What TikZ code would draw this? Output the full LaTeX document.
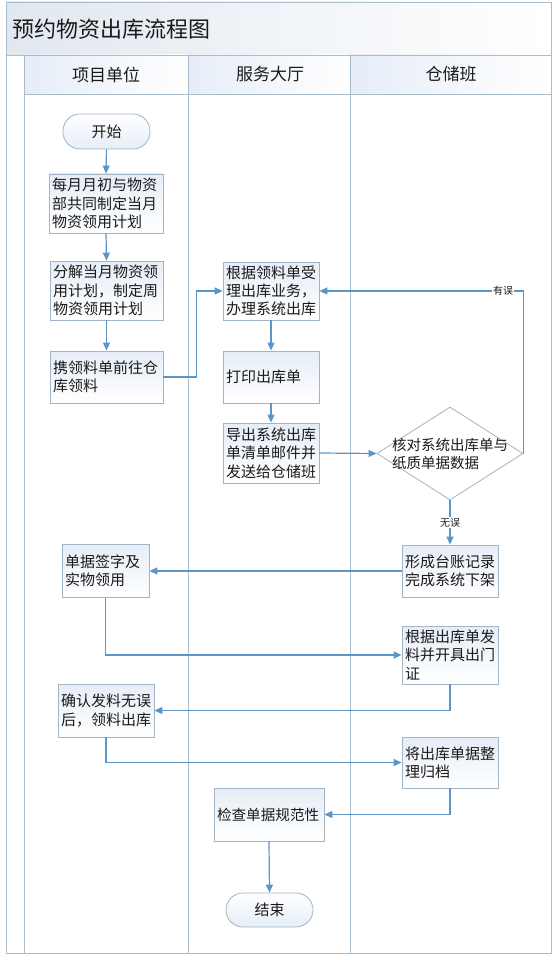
\documentclass[tikz,border=0pt]{standalone}
\usepackage{fontspec}
\setmainfont{Noto Sans CJK SC}
\usetikzlibrary{arrows.meta,shapes.geometric}
\definecolor{laneline}{HTML}{A9BDCD}
\definecolor{boxline}{HTML}{A3B4C4}
\definecolor{arrowc}{HTML}{5C95C8}
\definecolor{tint}{HTML}{E6EDF7}
\definecolor{titletint}{HTML}{E2E8F0}
\definecolor{txt}{HTML}{1A1A1A}
\begin{document}
\begin{tikzpicture}[x=1pt,y=-1pt,
  lane/.style={draw=laneline,line width=0.9pt},
  proc/.style={draw=boxline,line width=0.8pt,top color=tint,bottom color=white,
    align=left,inner xsep=3pt,inner ysep=2pt,text=txt,
    font=\fontsize{15}{18.3}\selectfont},
  term/.style={draw=boxline,line width=0.8pt,top color=white,bottom color=tint,
    rounded corners=17pt,text=txt,font=\fontsize{15}{18}\selectfont},
  decis/.style={draw=boxline,line width=0.8pt,shape=diamond,inner sep=0pt,fill=white},
  head/.style={text=txt,font=\fontsize{17}{20}\selectfont},
  arr/.style={draw=arrowc,line width=1.2pt,-{Triangle[length=8pt,width=7pt]}},
  lbl/.style={fill=white,inner sep=1pt,text=txt,font=\fontsize{10}{12}\selectfont}]
\useasboundingbox (0,0) rectangle (554,960);
\fill[white] (0,0) rectangle (554,960);
% frame
\path[left color=titletint,right color=white] (6,2) rectangle (551,55);
\path[left color=tint,right color=white] (24,55) rectangle (188,94);
\path[left color=tint,right color=white] (188,55) rectangle (350,94);
\path[left color=tint,right color=white] (350,55) rectangle (551,94);
\draw[lane] (6,2) rectangle (551,953);
\draw[lane] (6,55) -- (551,55);
\draw[lane] (24,94) -- (551,94);
\draw[lane] (24,55) -- (24,953);
\draw[lane] (188,55) -- (188,953);
\draw[lane] (350,55) -- (350,953);
\node[anchor=west,text=txt,font=\fontsize{22}{24}\selectfont] (title) at (9,29) {预约物资出库流程图};
\node[head] (h1) at (106,74.5) {项目单位};
\node[head] (h2) at (270,74.5) {服务大厅};
\node[head] (h3) at (451,74.5) {仓储班};
% nodes
\node[term,minimum width=87pt,minimum height=35pt] (start) at (106.5,131.5) {开始};
\node[proc,minimum width=114pt,minimum height=59pt,text width=108pt] (b1) at (106,203.5) {每月月初与物资\\部共同制定当月\\物资领用计划};
\node[proc,minimum width=113pt,minimum height=59pt,text width=107pt] (b2) at (106.5,290.5) {分解当月物资领\\用计划，制定周\\物资领用计划};
\node[proc,minimum width=113pt,minimum height=52pt,text width=107pt] (b3) at (106.5,377) {携领料单前往仓\\库领料};
\node[proc,minimum width=96pt,minimum height=58pt,text width=90pt] (b4) at (271,291) {根据领料单受\\理出库业务，\\办理系统出库};
\node[proc,minimum width=96pt,minimum height=52pt,text width=90pt] (b5) at (271,377) {打印出库单};
\node[proc,minimum width=96pt,minimum height=60pt,text width=90pt] (b6) at (271,453) {导出系统出库\\单清单邮件并\\发送给仓储班};
\node[decis,minimum width=146pt,minimum height=93pt] (chk) at (450,453.5) {};
\node[align=left,inner sep=0pt,text=txt,font=\fontsize{14.5}{18}\selectfont] (chktxt) at (450,454) {核对系统出库单与\\纸质单据数据};
\node[proc,minimum width=96pt,minimum height=52pt,text width=90pt] (b7) at (450,571) {形成台账记录\\完成系统下架};
\node[proc,minimum width=87pt,minimum height=53pt,text width=81pt] (b8) at (105.5,571) {单据签字及\\实物领用};
\node[proc,minimum width=96pt,minimum height=58pt,text width=90pt] (b9) at (450,655) {根据出库单发\\料并开具出门\\证};
\node[proc,minimum width=96pt,minimum height=53pt,text width=90pt] (b10) at (106,710.5) {确认发料无误\\后，领料出库};
\node[proc,minimum width=96pt,minimum height=51pt,text width=90pt] (b11) at (450,762.5) {将出库单据整\\理归档};
\node[proc,minimum width=110pt,minimum height=53pt,text width=104pt,font=\fontsize{14.6}{18}\selectfont] (b12) at (269,814.5) {检查单据规范性};
\node[term,minimum width=87pt,minimum height=34pt] (end) at (269.5,910) {结束};
% connectors
\draw[arr] (start.south) -- (b1.north);
\draw[arr] (b1.south) -- (b2.north);
\draw[arr] (b2.south) -- (b3.north);
\draw[arr] (b3.east) -- ++(33,0) |- (b4.west);
\draw[arr] (b4.south) -- (b5.north);
\draw[arr] (b5.south) -- (b6.north);
\draw[arr] (b6.east) -- (chk.west);
\draw[arr] (chk.east) |- (b4.east);
\node[lbl] (yw) at (503,291) {有误};
\draw[arr] (chk.south) -- node[lbl] (ww) {无误} (b7.north);
\draw[arr] (b7.west) -- (b7.west -| b8.east);
\draw[arr] (b8.south) |- (b9.west);
\draw[arr] (b9.south) |- (b10.east);
\draw[arr] (b10.south) |- (b11.west);
\draw[arr] (b11.south) |- (b12.east);
\draw[arr] (b12.south) -- (end.north);
\end{tikzpicture}
\end{document}
